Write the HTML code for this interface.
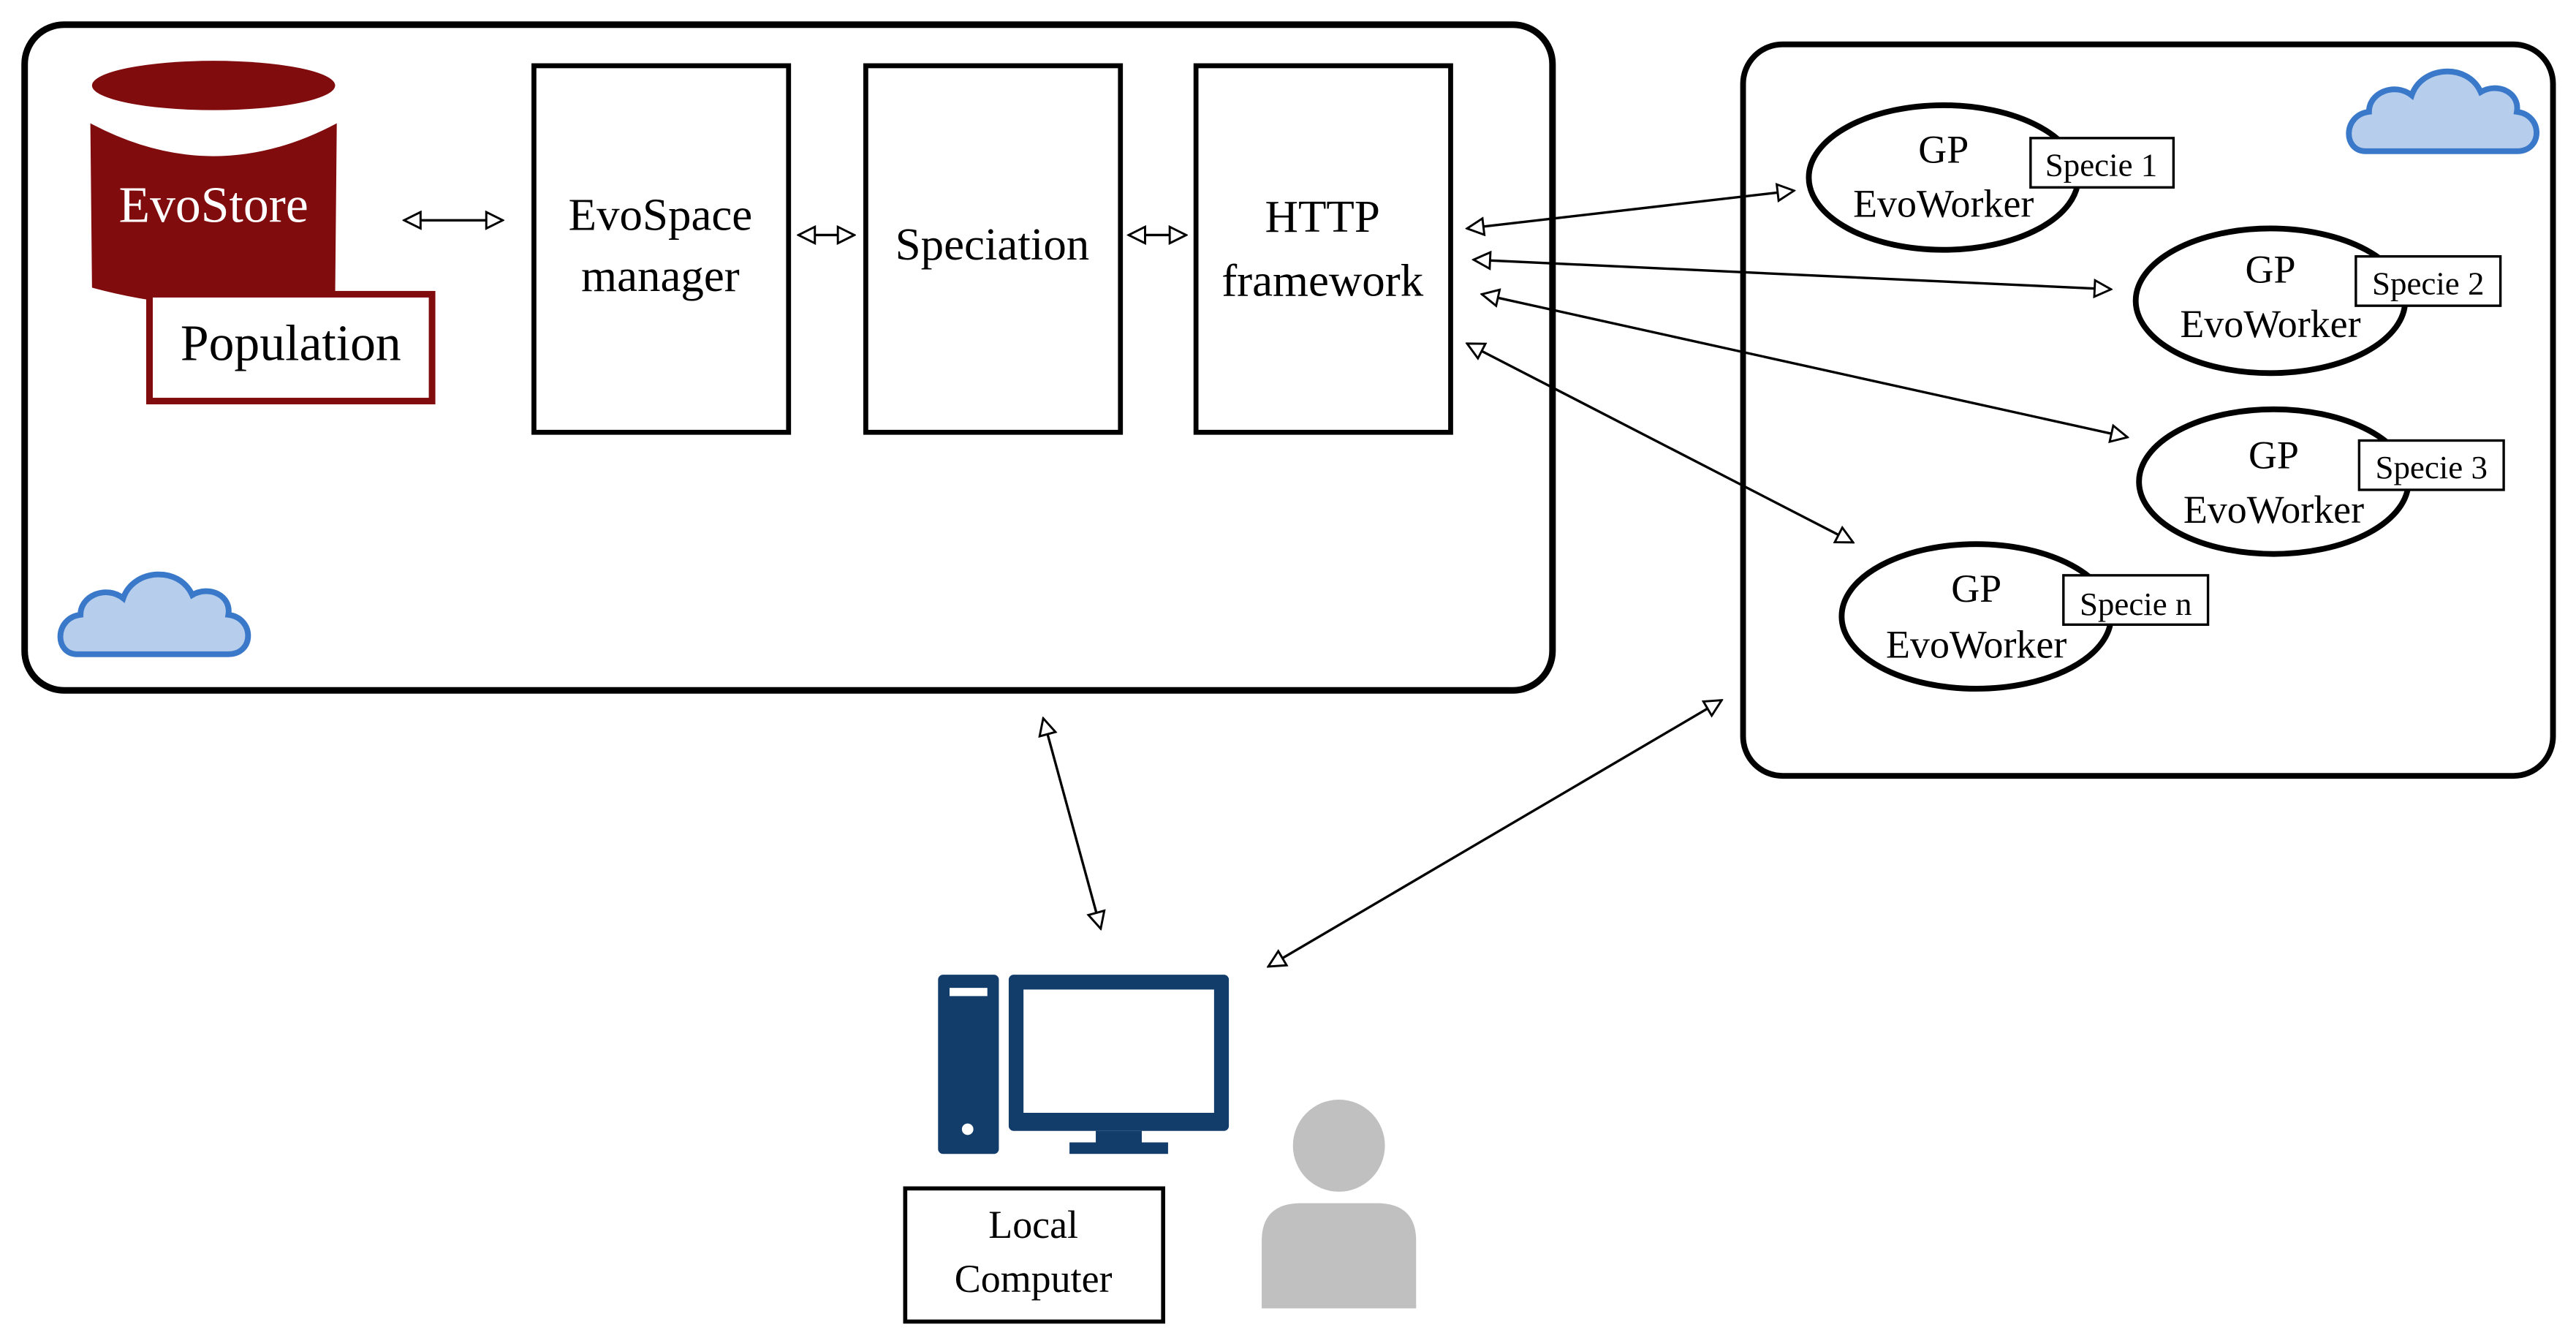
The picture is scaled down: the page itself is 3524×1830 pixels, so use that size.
<!DOCTYPE html>
<html><head><meta charset="utf-8"><style>html,body{margin:0;padding:0;background:#fff}svg{display:block}text{font-family:"Liberation Serif",serif}</style></head><body>
<svg width="3524" height="1830" viewBox="0 0 1568 814" preserveAspectRatio="none" xmlns="http://www.w3.org/2000/svg">
<defs>
<marker id="a" viewBox="0 0 12 12" refX="11" refY="6" markerWidth="12" markerHeight="12" markerUnits="userSpaceOnUse" orient="auto-start-reverse">
<path d="M1,1 L11,6 L1,11 Z" fill="#fff" stroke="#000" stroke-width="1.3"/></marker>
<g id="cloud"><path d="M12,58 C-2,58 -2,36 14,34 C14,22 30,16 40,24 C46,6 74,4 82,22 C92,16 106,22 104,34 C120,36 120,58 104,58 Z" fill="#b6cdeb" stroke="#3a78c9" stroke-width="3.5"/></g>
</defs>
<rect x="15" y="15" width="930" height="405" rx="24" fill="#fff" stroke="#000" stroke-width="4"/>
<rect x="1061" y="27" width="493" height="445" rx="24" fill="#fff" stroke="#000" stroke-width="3.5"/>
<use href="#cloud" x="35" y="340"/>
<use href="#cloud" x="1428" y="34"/>
<!-- cylinder -->
<path d="M55,75 Q130,115 205,75 L204,180 Q130,195 56,175 Z" fill="#800c0e"/>
<ellipse cx="130" cy="52" rx="74" ry="15" fill="#800c0e"/>
<text x="130" y="135" font-size="31" fill="#fff" text-anchor="middle">EvoStore</text>
<rect x="91" y="179" width="172" height="65" fill="#fff" stroke="#800c0e" stroke-width="4"/>
<text x="177" y="219" font-size="31" text-anchor="middle">Population</text>
<rect x="325" y="40" width="155" height="223" fill="#fff" stroke="#000" stroke-width="3"/>
<text x="402" y="140" font-size="28" text-anchor="middle">EvoSpace</text>
<text x="402" y="177" font-size="28" text-anchor="middle">manager</text>
<rect x="527" y="40" width="155" height="223" fill="#fff" stroke="#000" stroke-width="3"/>
<text x="604" y="158" font-size="28" text-anchor="middle">Speciation</text>
<rect x="728" y="40" width="155" height="223" fill="#fff" stroke="#000" stroke-width="3"/>
<text x="805" y="141" font-size="28" text-anchor="middle">HTTP</text>
<text x="805" y="180" font-size="28" text-anchor="middle">framework</text>
<g stroke="#000" stroke-width="1.5" fill="none" marker-start="url(#a)" marker-end="url(#a)">
<line x1="246" y1="134" x2="306" y2="134"/>
<line x1="486" y1="143" x2="520" y2="143"/>
<line x1="687" y1="143" x2="722" y2="143"/>
<line x1="893" y1="139" x2="1092" y2="116"/>
<line x1="897" y1="158" x2="1285" y2="176"/>
<line x1="902" y1="179" x2="1295" y2="266"/>
<line x1="893" y1="209" x2="1128" y2="330"/>
<line x1="635" y1="437" x2="670" y2="565"/>
<line x1="1048" y1="426" x2="772" y2="588"/>
</g>
<g font-size="24">
<ellipse cx="1183" cy="108" rx="82" ry="44" fill="#fff" stroke="#000" stroke-width="3.5"/>
<text x="1183" y="99" text-anchor="middle">GP</text><text x="1183" y="132" text-anchor="middle">EvoWorker</text>
<rect x="1236" y="84" width="87" height="30" fill="#fff" stroke="#000" stroke-width="1.5"/>
<text x="1279" y="107" font-size="20" text-anchor="middle">Specie 1</text>
<ellipse cx="1382" cy="183" rx="82" ry="44" fill="#fff" stroke="#000" stroke-width="3.5"/>
<text x="1382" y="172" text-anchor="middle">GP</text><text x="1382" y="205" text-anchor="middle">EvoWorker</text>
<rect x="1434" y="156" width="88" height="30" fill="#fff" stroke="#000" stroke-width="1.5"/>
<text x="1478" y="179" font-size="20" text-anchor="middle">Specie 2</text>
<ellipse cx="1384" cy="293" rx="82" ry="44" fill="#fff" stroke="#000" stroke-width="3.5"/>
<text x="1384" y="285" text-anchor="middle">GP</text><text x="1384" y="318" text-anchor="middle">EvoWorker</text>
<rect x="1436" y="268" width="88" height="30" fill="#fff" stroke="#000" stroke-width="1.5"/>
<text x="1480" y="291" font-size="20" text-anchor="middle">Specie 3</text>
<ellipse cx="1203" cy="375" rx="82" ry="44" fill="#fff" stroke="#000" stroke-width="3.5"/>
<text x="1203" y="366" text-anchor="middle">GP</text><text x="1203" y="400" text-anchor="middle">EvoWorker</text>
<rect x="1256" y="350" width="88" height="30" fill="#fff" stroke="#000" stroke-width="1.5"/>
<text x="1300" y="374" font-size="20" text-anchor="middle">Specie n</text>
</g>
<!-- computer -->
<rect x="571" y="593" width="37" height="109" rx="3" fill="#123c6a"/>
<rect x="578" y="601" width="23" height="5" fill="#fff"/>
<circle cx="589" cy="687" r="3.5" fill="#fff"/>
<rect x="614" y="593" width="134" height="95" rx="3" fill="#123c6a"/>
<rect x="623" y="602" width="116" height="75" fill="#fff"/>
<rect x="667" y="688" width="28" height="8" fill="#123c6a"/>
<rect x="651" y="695" width="60" height="7" fill="#123c6a"/>
<rect x="551" y="723" width="157" height="81" fill="#fff" stroke="#000" stroke-width="2.5"/>
<text x="629" y="753" font-size="24" text-anchor="middle">Local</text>
<text x="629" y="786" font-size="24" text-anchor="middle">Computer</text>
<!-- person -->
<circle cx="815" cy="697" r="28" fill="#c0c0c0"/>
<path d="M768,796 L768,755 Q768,732 792,732 L838,732 Q862,732 862,755 L862,796 Z" fill="#c0c0c0"/>
</svg>
</body></html>
